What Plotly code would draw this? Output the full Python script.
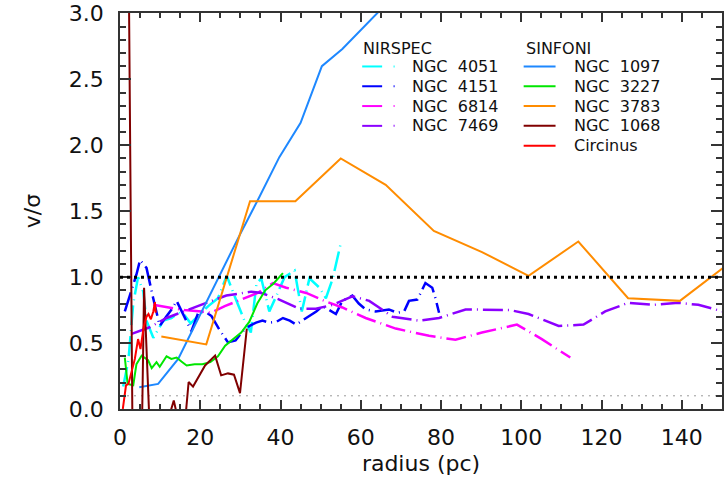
import plotly.graph_objects as go

# ---------------- data ----------------
# NIRSPEC
n4051_x = [0.8, 2.1, 3.3, 4.5, 5.8, 6.6, 8.3, 10.8, 12.8, 14.6, 16.1, 17.6, 19.9, 22.0, 24.4, 26.6, 28.5, 31.0,
           32.6, 34.0, 35.2, 37.2, 39.0, 41.0, 43.5, 45.3, 47.2, 49.7, 51.3, 53.0, 55.0]
n4051_y = [0.17, 0.37, 0.80, 1.0, 0.89, 0.67, 0.54, 0.67, 0.69, 0.73, 0.71, 0.65, 0.72, 0.78, 0.84, 1.01, 0.86, 0.67,
           0.58, 0.95, 0.99, 0.74, 0.86, 1.0, 1.05, 0.74, 0.99, 0.92, 0.84, 0.99, 1.255]

n4151_x = [1.2, 2.7, 4.1, 5.0, 6.6, 8.2, 9.9, 11.5, 13.2, 14.1, 16.0, 17.8, 19.5, 21.1, 22.8, 24.8, 26.9, 28.8,
           30.6, 32.3, 33.9, 35.5, 37.2, 38.9, 40.6, 42.3, 43.9, 45.5, 47.2, 48.9, 50.5, 52.1, 53.8, 55.4,
           57.9, 59.5, 61.2, 63.7, 67.0, 69.1, 70.8, 72.0, 74.1, 74.9, 76.1, 77.8, 78.6, 79.5]
n4151_y = [0.74, 0.88, 1.02, 1.13, 1.07, 0.85, 0.63, 0.70, 0.77, 0.82, 0.70, 0.59, 0.73, 0.74, 0.705, 0.60, 0.505, 0.52,
           0.59, 0.63, 0.655, 0.67, 0.655, 0.66, 0.69, 0.67, 0.64, 0.67, 0.705, 0.74, 0.78, 0.75, 0.72, 0.82,
           0.86, 0.80, 0.755, 0.74, 0.755, 0.73, 0.74, 0.82, 0.83, 0.88, 0.955, 0.92, 0.84, 0.73]

n6814_x = [8.3, 12.0, 16.1, 20.3, 22.7, 26.1, 30.2, 34.3, 38.1, 41.4, 46.4, 50.9, 55.4, 61.2, 68.7, 77.0, 83.6,
           90.2, 98.9, 105.1, 112.2]
n6814_y = [0.79, 0.77, 0.75, 0.74, 0.73, 0.78, 0.83, 0.88, 0.955, 0.92, 0.88, 0.82, 0.77, 0.69, 0.61, 0.555, 0.525,
           0.58, 0.64, 0.53, 0.39]

n7469_x = [2.9, 7.4, 11.6, 17.0, 21.5, 26.5, 29.0, 32.7, 35.2, 39.7, 44.7, 48.8, 53.0, 57.9, 62.1, 67.9, 74.5,
           79.5, 86.1, 92.7, 97.2, 101.8, 109.3, 115.5, 120.9, 126.6, 132.9, 139.1, 144.1, 150.2]
n7469_y = [0.57, 0.62, 0.69, 0.755, 0.805, 0.86, 0.87, 0.89, 0.88, 0.83, 0.76, 0.76, 0.79, 0.855, 0.82, 0.70, 0.67,
           0.69, 0.755, 0.75, 0.75, 0.72, 0.63, 0.64, 0.74, 0.805, 0.79, 0.805, 0.79, 0.74]

# SINFONI
n1097_x = [4.8, 9.5, 14.5, 19.5, 24.5, 29.5, 34.6, 39.7, 45.0, 50.3, 55.4, 60.0, 65.0, 70.0]
n1097_y = [0.165, 0.19, 0.38, 0.69, 0.99, 1.30, 1.60, 1.91, 2.17, 2.60, 2.73, 2.87, 3.03, 3.2]

n3227_x = [1.2, 1.9, 3.3, 4.1, 5.4, 7.0, 7.9, 9.1, 9.9, 11.6, 12.8, 14.1, 15.3, 16.6, 18.6, 20.5, 22.5, 24.4,
           26.2, 28.2, 30.2, 32.2, 34.2, 36.2, 38.2, 40.6]
n3227_y = [0.39, 0.19, 0.18, 0.34, 0.405, 0.37, 0.31, 0.355, 0.32, 0.40, 0.38, 0.39, 0.36, 0.33, 0.34, 0.34, 0.355,
           0.40, 0.48, 0.53, 0.58, 0.66, 0.80, 0.90, 0.95, 1.03]

n3783_x = [10.3, 21.5, 32.4, 43.7, 55.0, 66.2, 78.2, 90.2, 101.8, 114.2, 126.6, 139.5, 152.0]
n3783_y = [0.55, 0.49, 1.575, 1.575, 1.90, 1.70, 1.35, 1.19, 1.01, 1.27, 0.84, 0.82, 1.11]

n1068_x = [2.0, 3.2, 5.4, 6.0, 7.6, 10.0, 12.3, 13.4, 14.6, 16.2, 17.1, 18.2, 21.2, 23.7, 25.2, 26.9, 28.4, 29.9, 31.6]
n1068_y = [4.0, -0.5, -0.3, 0.92, -0.3, -0.3, -0.05, 0.065, -0.1, -0.1, 0.205, 0.17, 0.33, 0.405, 0.255, 0.27, 0.26,
           0.12, 0.61]

circ_x = [0.7, 1.5, 2.1, 2.9, 3.7, 4.5, 5.1, 5.9, 6.6, 7.1, 7.7, 8.3, 8.7, 8.9]
circ_y = [0.0, 0.18, 0.19, 0.29, 0.38, 0.53, 0.455, 0.62, 0.70, 0.72, 0.68, 0.74, 0.81, 0.73]

x_ticks = [0, 20, 40, 60, 80, 100, 120, 140]
y_ticks = [0.0, 0.5, 1.0, 1.5, 2.0, 2.5, 3.0]

# ---------------- styling ----------------
FONT = "DejaVu Sans"
W, H = 725, 483
ML, MR, MT, MB = 120, 1, 9, 74
PW, PH = W - ML - MR, H - MT - MB

def px(xp):
    return (xp - ML) / PW

def py(yp):
    return (H - MB - yp) / PH

DASH = "20px,5px,1px,5px"

nirspec = [
    ("NGC 4051", n4051_x, n4051_y, "#00FFFF"),
    ("NGC 4151", n4151_x, n4151_y, "#0000FF"),
    ("NGC 6814", n6814_x, n6814_y, "#FF00FF"),
    ("NGC 7469", n7469_x, n7469_y, "#8C00FF"),
]
sinfoni = [
    ("NGC 1097", n1097_x, n1097_y, "#1E88FF"),
    ("NGC 3227", n3227_x, n3227_y, "#00E600"),
    ("NGC 3783", n3783_x, n3783_y, "#FF8C00"),
    ("NGC 1068", n1068_x, n1068_y, "#800000"),
    ("Circinus", circ_x, circ_y, "#FF0000"),
]

fig = go.Figure()

for name, xs, ys, col in nirspec:
    fig.add_trace(go.Scatter(x=xs, y=ys, mode="lines", name=name,
                             line=dict(color=col, width=2.5, dash=DASH), showlegend=False))
for name, xs, ys, col in sinfoni:
    fig.add_trace(go.Scatter(x=xs, y=ys, mode="lines", name=name,
                             line=dict(color=col, width=2), showlegend=False))

shapes = [
    dict(type="line", xref="paper", x0=0, x1=1, yref="y", y0=1.0, y1=1.0,
         line=dict(color="black", width=3, dash="3px,4px"), layer="above"),
    dict(type="line", xref="paper", x0=0, x1=1, yref="y", y0=0.1, y1=0.1,
         line=dict(color="#999999", width=1, dash="2px,5px"), layer="below"),
]
annotations = []

LF = dict(family=FONT, size=16, color="#111111")
annotations.append(dict(text="NIRSPEC", x=px(362), y=py(45), xref="paper", yref="paper",
                        xanchor="left", yanchor="middle", showarrow=False, font=LF))
annotations.append(dict(text="SINFONI", x=px(525), y=py(45), xref="paper", yref="paper",
                        xanchor="left", yanchor="middle", showarrow=False, font=LF))
row_y = [63, 83, 103, 123, 143]
for i, (name, xs, ys, col) in enumerate(nirspec):
    yy = py(row_y[i])
    shapes.append(dict(type="line", xref="paper", yref="paper", x0=px(363), x1=px(383), y0=yy, y1=yy,
                       line=dict(color=col, width=2)))
    shapes.append(dict(type="line", xref="paper", yref="paper", x0=px(394.5), x1=px(395.5), y0=yy, y1=yy,
                       line=dict(color=col, width=2)))
    annotations.append(dict(text=name.replace(" ", "\u00a0\u00a0"), x=px(411), y=yy, xref="paper", yref="paper",
                            xanchor="left", yanchor="middle", showarrow=False, font=LF))
for i, (name, xs, ys, col) in enumerate(sinfoni):
    yy = py(row_y[i])
    shapes.append(dict(type="line", xref="paper", yref="paper", x0=px(525), x1=px(557), y0=yy, y1=yy,
                       line=dict(color=col, width=2)))
    annotations.append(dict(text=name.replace(" ", "\u00a0\u00a0"), x=px(573), y=yy, xref="paper", yref="paper",
                            xanchor="left", yanchor="middle", showarrow=False, font=LF))

axis_common = dict(showline=True, linecolor="#333333", linewidth=1.5, mirror="ticks",
                   ticks="inside", tickcolor="#333333", showgrid=False, zeroline=False,
                   tickfont=dict(family=FONT, size=22, color="#111111"))

fig.update_layout(
    width=W, height=H,
    margin=dict(l=ML, r=MR, t=MT, b=MB, pad=0),
    paper_bgcolor="white", plot_bgcolor="white",
    showlegend=False,
    shapes=shapes, annotations=annotations,
    xaxis=dict(range=[0, 150], tickvals=x_ticks, ticktext=[str(v) for v in x_ticks],
               ticklen=9, tickwidth=1.5,
               minor=dict(ticks="inside", dtick=5, ticklen=5, tickcolor="#333333", showgrid=False),
               ticklabelstandoff=8,
               title=dict(text="radius (pc)", font=dict(family=FONT, size=22, color="#111111"), standoff=6),
               **axis_common),
    yaxis=dict(range=[0, 3.003], tickvals=y_ticks, ticktext=[f"{v:.1f}" for v in y_ticks],
               ticklen=11, tickwidth=1.5,
               minor=dict(ticks="inside", dtick=0.1, ticklen=6, tickcolor="#333333", showgrid=False),
               ticklabelstandoff=10, ticklabeloverflow="allow",
               title=dict(text="v/σ", font=dict(family=FONT, size=22, color="#111111"), standoff=22),
               **axis_common),
)

fig.write_html("out.html")
